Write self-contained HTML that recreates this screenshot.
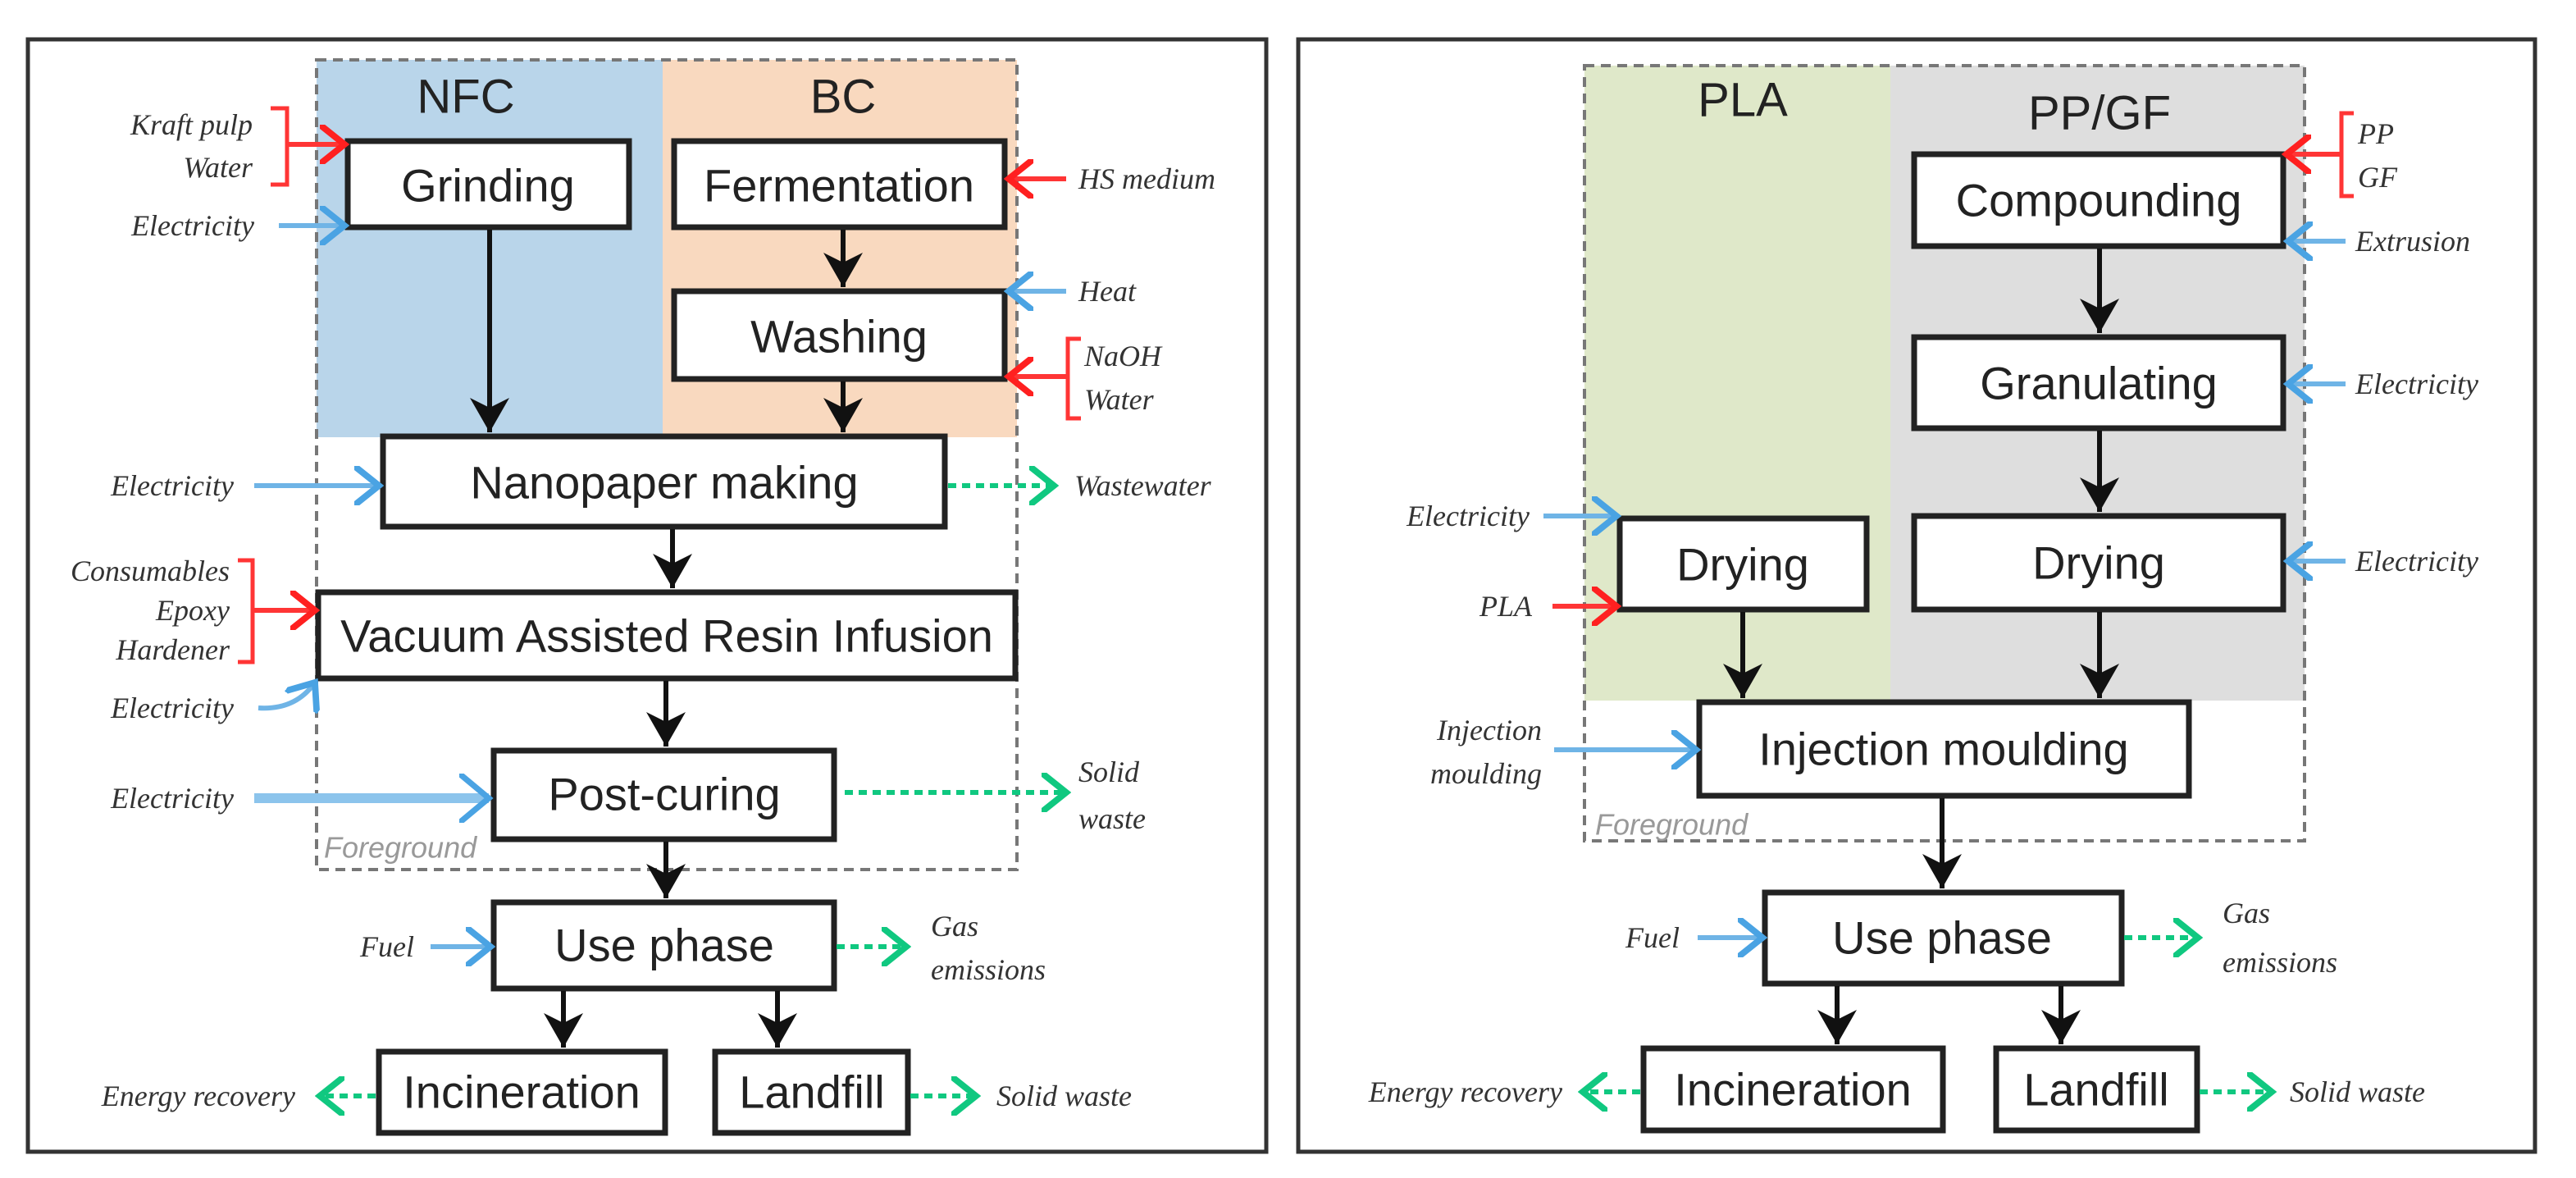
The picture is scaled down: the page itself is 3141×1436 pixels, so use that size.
<!DOCTYPE html>
<html><head><meta charset="utf-8"><style>
html,body{margin:0;padding:0;background:#fff;}
svg{display:block;}
.bx{fill:#fff;stroke:#222;stroke-width:7;}
.lb{font-family:"Liberation Sans Narrow","Liberation Sans",sans-serif;font-size:56px;fill:#222;text-anchor:middle;dominant-baseline:central;}
.hd{font-family:"Liberation Sans Narrow","Liberation Sans",sans-serif;font-size:58px;fill:#222;text-anchor:middle;dominant-baseline:central;}
.it{font-family:"Liberation Serif",serif;font-style:italic;font-size:36px;fill:#333;dominant-baseline:central;}
.r{text-anchor:end;}
.fg{font-family:"Liberation Sans Narrow","Liberation Sans",sans-serif;font-style:italic;font-size:36px;fill:#999;dominant-baseline:central;}
.k{stroke:#111;stroke-width:6;fill:none;marker-end:url(#mk);}
.bl{stroke:#6fb4e6;stroke-width:6;fill:none;marker-end:url(#mb);}
.bl2{stroke:#8cc4ec;stroke-width:12;fill:none;marker-end:url(#mb2);}
.rd{stroke:#ff3535;stroke-width:6;fill:none;marker-end:url(#mr);}
.rb{stroke:#ff3535;stroke-width:5;fill:none;}
.gn{stroke:#10c880;stroke-width:6;stroke-dasharray:10 7;fill:none;marker-end:url(#mg);}
.ds{fill:none;stroke:#777;stroke-width:4;stroke-dasharray:12 8;}
</style></head><body>
<svg width="3141" height="1436" viewBox="0 0 3141 1436" xmlns="http://www.w3.org/2000/svg">
<defs>
<marker id="mk" markerWidth="8" markerHeight="8" refX="7" refY="4" orient="auto" markerUnits="strokeWidth"><path d="M0,0 L7,4 L0,8 L2,4 Z" fill="#111"/></marker>
<marker id="mb" markerWidth="6" markerHeight="8" refX="5" refY="4" orient="auto" markerUnits="strokeWidth"><path d="M0,0 L5,4 L0,8" fill="none" stroke="#4aa3e3" stroke-width="1.3"/></marker>
<marker id="mb2" markerWidth="4" markerHeight="5" refX="3" refY="2.5" orient="auto" markerUnits="strokeWidth"><path d="M0,0 L3,2.5 L0,5" fill="none" stroke="#4aa3e3" stroke-width="0.6"/></marker>
<marker id="mr" markerWidth="6" markerHeight="8" refX="5" refY="4" orient="auto" markerUnits="strokeWidth"><path d="M0,0 L5,4 L0,8" fill="none" stroke="#ff2020" stroke-width="1.3"/></marker>
<marker id="mg" markerWidth="6" markerHeight="8" refX="5" refY="4" orient="auto" markerUnits="strokeWidth"><path d="M0,0 L5,4 L0,8" fill="none" stroke="#10c880" stroke-width="1.3"/></marker>
</defs>

<!-- LEFT PANEL -->
<rect x="34" y="48" width="1510" height="1356" fill="#fff" stroke="#333" stroke-width="5"/>
<rect x="386" y="73" width="422" height="460" fill="#b9d5ea"/>
<rect x="808" y="73" width="432" height="460" fill="#f9d9bf"/>
<rect x="386" y="73" width="854" height="987" class="ds"/>
<text x="568" y="118" class="hd">NFC</text>
<text x="1028" y="118" class="hd">BC</text>

<rect x="424" y="172" width="343" height="105" class="bx"/><text x="595" y="226" class="lb">Grinding</text>
<rect x="822" y="172" width="403" height="105" class="bx"/><text x="1023" y="226" class="lb">Fermentation</text>
<rect x="822" y="355" width="403" height="107" class="bx"/><text x="1023" y="410" class="lb">Washing</text>
<rect x="467" y="532" width="685" height="110" class="bx"/><text x="810" y="588" class="lb">Nanopaper making</text>
<rect x="388" y="722" width="850" height="105" class="bx"/><text x="813" y="775" class="lb">Vacuum Assisted Resin Infusion</text>
<rect x="602" y="915" width="415" height="108" class="bx"/><text x="810" y="968" class="lb">Post-curing</text>
<rect x="602" y="1100" width="415" height="105" class="bx"/><text x="810" y="1152" class="lb">Use phase</text>
<rect x="462" y="1282" width="349" height="99" class="bx"/><text x="636" y="1331" class="lb">Incineration</text>
<rect x="872" y="1282" width="235" height="99" class="bx"/><text x="990" y="1331" class="lb">Landfill</text>

<line x1="597" y1="280" x2="597" y2="527" class="k"/>
<line x1="1028" y1="280" x2="1028" y2="350" class="k"/>
<line x1="1028" y1="465" x2="1028" y2="527" class="k"/>
<line x1="820" y1="645" x2="820" y2="717" class="k"/>
<line x1="812" y1="830" x2="812" y2="910" class="k"/>
<line x1="812" y1="1026" x2="812" y2="1095" class="k"/>
<line x1="687" y1="1208" x2="687" y2="1277" class="k"/>
<line x1="948" y1="1208" x2="948" y2="1277" class="k"/>

<text x="308" y="152" class="it r">Kraft pulp</text>
<text x="308" y="204" class="it r">Water</text>
<path d="M330,132 H350 V225 H330" class="rb"/>
<line x1="350" y1="176" x2="420" y2="176" class="rd"/>
<text x="310" y="275" class="it r">Electricity</text>
<line x1="340" y1="275" x2="420" y2="275" class="bl"/>
<line x1="1300" y1="218" x2="1230" y2="218" class="rd"/>
<text x="1315" y="218" class="it">HS medium</text>
<line x1="1300" y1="355" x2="1230" y2="355" class="bl"/>
<text x="1315" y="355" class="it">Heat</text>
<path d="M1318,413 H1302 V510 H1318" class="rb"/>
<line x1="1302" y1="459" x2="1230" y2="459" class="rd"/>
<text x="1322" y="434" class="it">NaOH</text>
<text x="1322" y="487" class="it">Water</text>
<text x="285" y="592" class="it r">Electricity</text>
<line x1="310" y1="592" x2="462" y2="592" class="bl"/>
<line x1="1156" y1="592" x2="1285" y2="592" class="gn"/>
<text x="1310" y="592" class="it">Wastewater</text>
<text x="280" y="696" class="it r">Consumables</text>
<text x="280" y="744" class="it r">Epoxy</text>
<text x="280" y="792" class="it r">Hardener</text>
<path d="M290,683 H308 V807 H290" class="rb"/>
<line x1="308" y1="744" x2="384" y2="744" class="rd"/>
<text x="285" y="863" class="it r">Electricity</text>
<path d="M315,863 Q360,866 384,832" class="bl"/>
<text x="285" y="973" class="it r">Electricity</text>
<line x1="310" y1="973" x2="596" y2="973" class="bl2"/>
<line x1="1030" y1="966" x2="1300" y2="966" class="gn"/>
<text x="1315" y="941" class="it">Solid</text>
<text x="1315" y="998" class="it">waste</text>
<text x="395" y="1033" class="fg">Foreground</text>
<text x="505" y="1154" class="it r">Fuel</text>
<line x1="525" y1="1154" x2="598" y2="1154" class="bl"/>
<line x1="1020" y1="1154" x2="1105" y2="1154" class="gn"/>
<text x="1135" y="1129" class="it">Gas</text>
<text x="1135" y="1182" class="it">emissions</text>
<line x1="458" y1="1336" x2="390" y2="1336" class="gn"/>
<text x="360" y="1336" class="it r">Energy recovery</text>
<line x1="1110" y1="1336" x2="1190" y2="1336" class="gn"/>
<text x="1215" y="1336" class="it">Solid waste</text>

<!-- RIGHT PANEL -->
<rect x="1583" y="48" width="1508" height="1356" fill="#fff" stroke="#333" stroke-width="5"/>
<rect x="1932" y="80" width="373" height="774" fill="#dfe8c9"/>
<rect x="2305" y="80" width="505" height="774" fill="#dedede"/>
<rect x="1932" y="80" width="878" height="945" class="ds"/>
<text x="2125" y="122" class="hd">PLA</text>
<text x="2560" y="138" class="hd">PP/GF</text>

<rect x="2334" y="188" width="450" height="112" class="bx"/><text x="2559" y="244" class="lb">Compounding</text>
<rect x="2334" y="411" width="450" height="111" class="bx"/><text x="2559" y="467" class="lb">Granulating</text>
<rect x="2334" y="629" width="450" height="114" class="bx"/><text x="2559" y="686" class="lb">Drying</text>
<rect x="1975" y="632" width="301" height="111" class="bx"/><text x="2125" y="688" class="lb">Drying</text>
<rect x="2072" y="856" width="597" height="114" class="bx"/><text x="2370" y="913" class="lb">Injection moulding</text>
<rect x="2152" y="1088" width="435" height="111" class="bx"/><text x="2368" y="1143" class="lb">Use phase</text>
<rect x="2004" y="1278" width="365" height="100" class="bx"/><text x="2186" y="1328" class="lb">Incineration</text>
<rect x="2434" y="1278" width="245" height="100" class="bx"/><text x="2556" y="1328" class="lb">Landfill</text>

<line x1="2560" y1="303" x2="2560" y2="406" class="k"/>
<line x1="2560" y1="525" x2="2560" y2="624" class="k"/>
<line x1="2560" y1="746" x2="2560" y2="851" class="k"/>
<line x1="2125" y1="746" x2="2125" y2="851" class="k"/>
<line x1="2368" y1="973" x2="2368" y2="1083" class="k"/>
<line x1="2240" y1="1202" x2="2240" y2="1273" class="k"/>
<line x1="2513" y1="1202" x2="2513" y2="1273" class="k"/>

<path d="M2870,138 H2855 V239 H2870" class="rb"/>
<line x1="2855" y1="188" x2="2788" y2="188" class="rd"/>
<text x="2875" y="163" class="it">PP</text>
<text x="2875" y="216" class="it">GF</text>
<line x1="2860" y1="294" x2="2790" y2="294" class="bl"/>
<text x="2872" y="294" class="it">Extrusion</text>
<line x1="2860" y1="468" x2="2790" y2="468" class="bl"/>
<text x="2872" y="468" class="it">Electricity</text>
<line x1="2860" y1="684" x2="2790" y2="684" class="bl"/>
<text x="2872" y="684" class="it">Electricity</text>
<text x="1865" y="629" class="it r">Electricity</text>
<line x1="1882" y1="629" x2="1971" y2="629" class="bl"/>
<text x="1868" y="739" class="it r">PLA</text>
<line x1="1893" y1="739" x2="1971" y2="739" class="rd"/>
<text x="1880" y="890" class="it r">Injection</text>
<text x="1880" y="943" class="it r">moulding</text>
<line x1="1895" y1="914" x2="2068" y2="914" class="bl"/>
<text x="1945" y="1005" class="fg">Foreground</text>
<text x="2048" y="1143" class="it r">Fuel</text>
<line x1="2070" y1="1143" x2="2149" y2="1143" class="bl"/>
<line x1="2590" y1="1143" x2="2680" y2="1143" class="gn"/>
<text x="2710" y="1113" class="it">Gas</text>
<text x="2710" y="1173" class="it">emissions</text>
<line x1="2000" y1="1331" x2="1930" y2="1331" class="gn"/>
<text x="1905" y="1331" class="it r">Energy recovery</text>
<line x1="2682" y1="1331" x2="2770" y2="1331" class="gn"/>
<text x="2792" y="1331" class="it">Solid waste</text>
</svg>
</body></html>
